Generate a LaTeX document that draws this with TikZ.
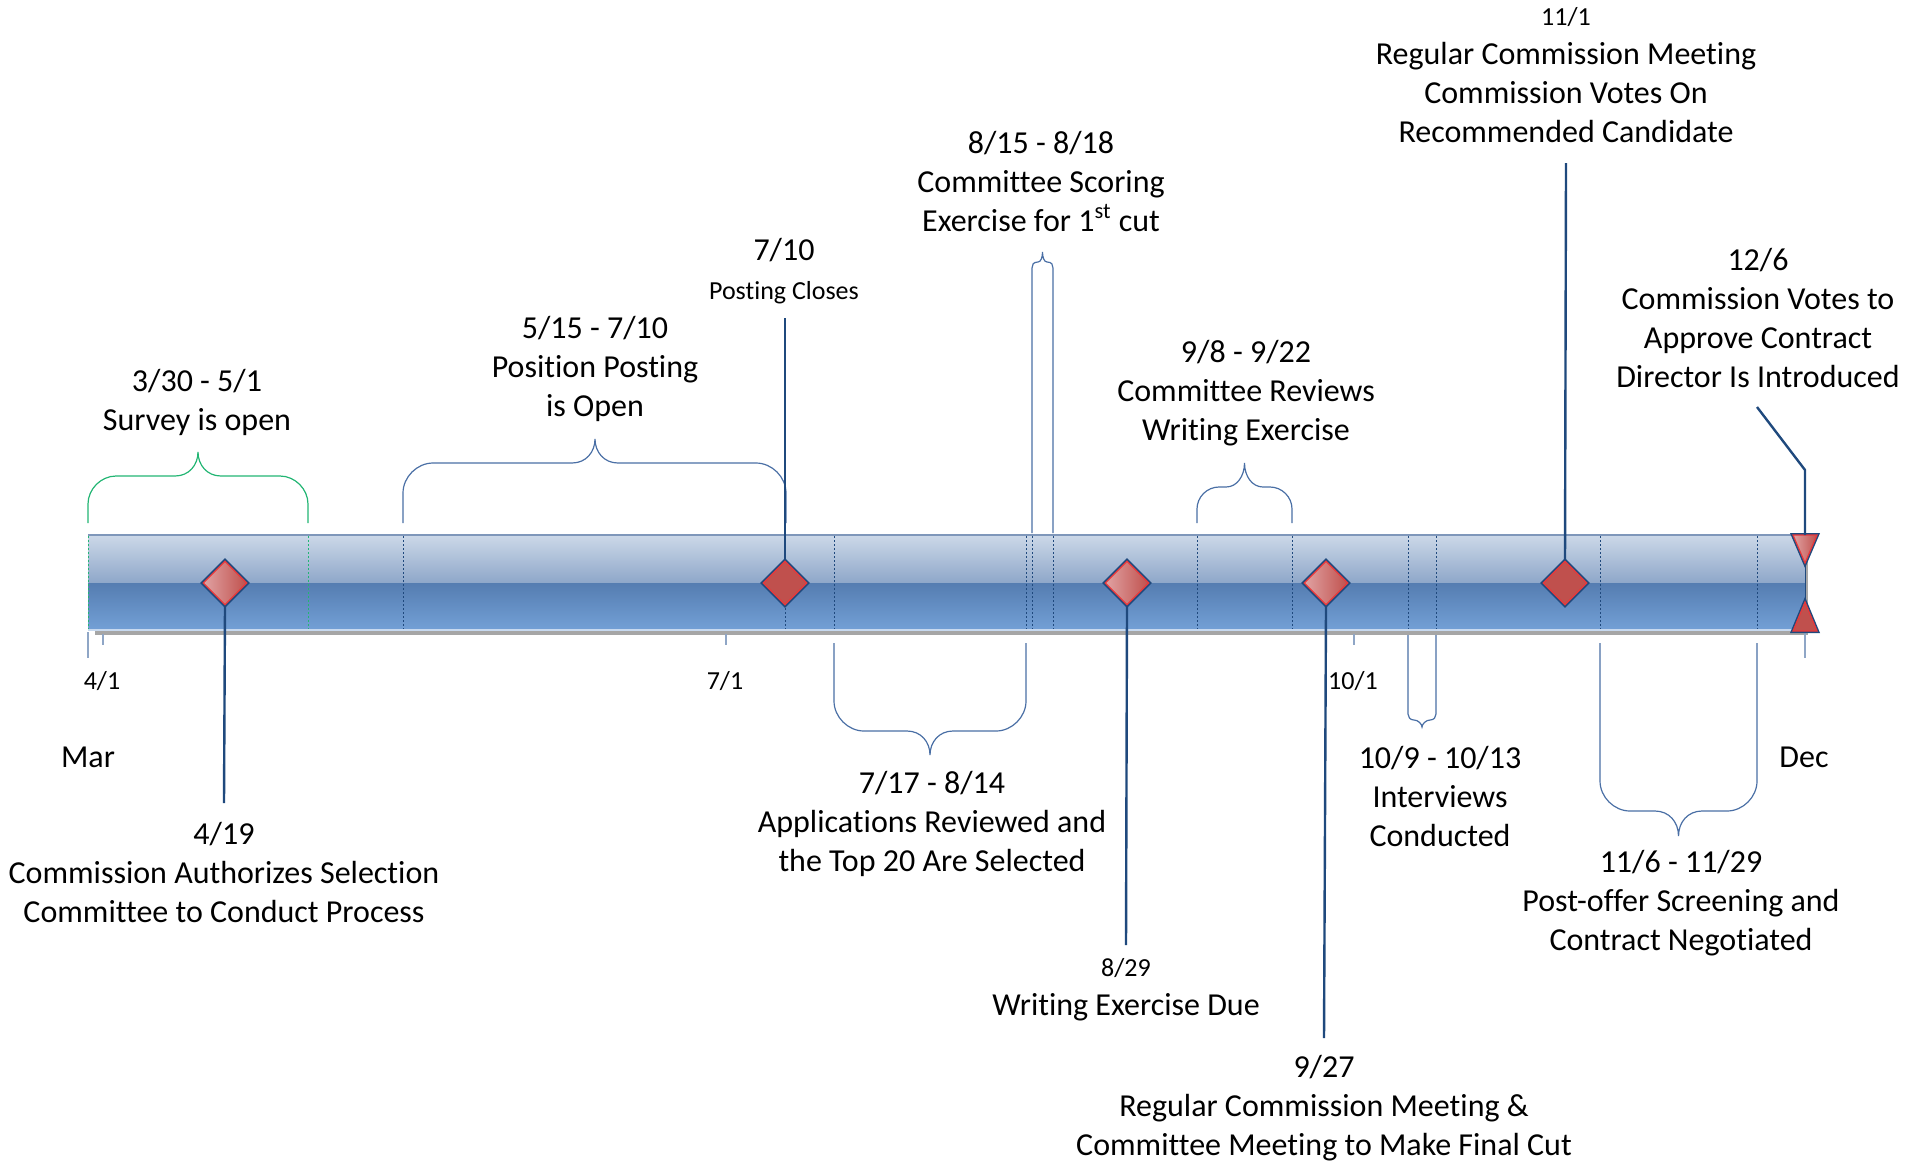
\documentclass[tikz,border=0pt]{standalone}
\usepackage{fontspec}
\setmainfont{Carlito}[Ligatures=NoCommon]
\usetikzlibrary{shapes.geometric}

\definecolor{navy}{HTML}{1F497D}
\definecolor{braceblue}{HTML}{4A6FA5}
\definecolor{bracegreen}{HTML}{22B573}
\definecolor{tickblue}{HTML}{8FA6C6}
\definecolor{barA}{HTML}{CCD8E8}
\definecolor{barB}{HTML}{8EA7C9}
\definecolor{barC}{HTML}{557DB1}
\definecolor{barD}{HTML}{73A0D6}
\definecolor{barline}{HTML}{7F97BA}
\definecolor{msLight}{HTML}{E0A3A3}
\definecolor{msDark}{HTML}{C0504D}
\definecolor{msRed}{HTML}{E8383A}

\newcommand{\smallfnt}{\fontsize{13}{16}\selectfont}

\begin{document}
\begin{tikzpicture}[x=0.5pt,y=-0.5pt,
	lbl/.style={align=center,inner sep=0pt,font=\fontsize{16}{19.5}\selectfont},
	tiny/.style={align=center,inner sep=0pt,font=\smallfnt},
	milestone/.style={diamond,inner sep=0pt,minimum size=22pt,left color=msLight,right color=msDark,draw=msRed,line width=0.6pt,preaction={draw=navy,line width=2.2pt}},
	flatstone/.style={milestone,left color=msDark,right color=msDark},
	flag/.style={left color=msLight,right color=msDark,draw=msRed,line width=0.6pt,preaction={draw=navy,line width=2pt}},
	conn/.style={draw=navy,line width=1.2pt},
	brace/.style={draw=braceblue,line width=0.6pt},
	sep/.style={draw=navy,line width=0.4pt,dash pattern=on 1pt off 1pt},
	tick/.style={draw=tickblue,line width=0.8pt}]

	\useasboundingbox (0,0) rectangle (1927,1164);

	%Bar
	\fill[gray!70] (95,630) rectangle (1808,635);
	\fill[gray!70] (1805,555) rectangle (1808,635);
	\shade[top color=barA, bottom color=barB] (88,535) rectangle (1805,583);
	\shade[top color=barC, bottom color=barD] (88,583) rectangle (1805,630);
	\draw[barline, line width=0.8pt] (88,535) -- (1805,535);
	\draw[barD!40!white, line width=0.6pt] (88,630) -- (1805,630);

	%Separators
	\foreach \x in {88,308}
		\draw[sep,draw=bracegreen] (\x,536) -- (\x,629);
	\foreach \x in {403,785,834,1026,1032,1053,1197,1292,1408,1436,1600,1757}
		\draw[sep] (\x,536) -- (\x,629);

	%Ticks
	\draw[tick] (88,632) -- (88,658);
	\draw[tick] (103,634) -- (103,645);
	\draw[tick] (726,634) -- (726,645);
	\draw[tick] (1354,634) -- (1354,645);
	\draw[tick] (1805,632) -- (1805,658);

	%Braces
	%3/30 - 5/1
	\draw[brace,draw=bracegreen] (88,523) -- (88,504) .. controls (88,489) and (101,476) .. (116,476) -- (175,476) .. controls (189,476) and (198,465) .. (198,452) .. controls (198,465) and (207,476) .. (221,476) -- (280,476) .. controls (295,476) and (308,489) .. (308,504) -- (308,523);
	%5/15 - 7/10
	\draw[brace] (403,523) -- (403,493) .. controls (403,477) and (417,463) .. (433,463) -- (572,463) .. controls (586,463) and (595,452) .. (595,439) .. controls (595,452) and (604,463) .. (618,463) -- (756,463) .. controls (772,463) and (786,477) .. (786,493) -- (786,523);
	%8/15 - 8/18
	\draw[brace] (1032,533) -- (1032,268) .. controls (1032,265) and (1033,262) .. (1038,262) .. controls (1041,262) and (1042.5,257) .. (1042.5,252) .. controls (1042.5,257) and (1044,262) .. (1047,262) .. controls (1052,262) and (1053,265) .. (1053,268) -- (1053,533);
	%9/8 - 9/22
	\draw[brace] (1197,523) -- (1197,509) .. controls (1197,497) and (1207,487) .. (1219,487) -- (1226,487) .. controls (1237,487) and (1244.5,476) .. (1244.5,463) .. controls (1244.5,476) and (1252,487) .. (1263,487) -- (1270,487) .. controls (1282,487) and (1292,497) .. (1292,509) -- (1292,523);
	%7/17 - 8/14
	\draw[brace] (834,643) -- (834,701) .. controls (834,717) and (848,731) .. (864,731) -- (907,731) .. controls (921,731) and (930,742) .. (930,755) .. controls (930,742) and (939,731) .. (953,731) -- (996,731) .. controls (1012,731) and (1026,717) .. (1026,701) -- (1026,643);
	%10/9 - 10/13
	\draw[brace] (1408,635) -- (1408,714) .. controls (1408,717) and (1410,720) .. (1414,720) .. controls (1418,720) and (1422,724) .. (1422,727) .. controls (1422,724) and (1426,720) .. (1430,720) .. controls (1434,720) and (1436,717) .. (1436,714) -- (1436,635);
	%11/6 - 11/29
	\draw[brace] (1600,643) -- (1600,781) .. controls (1600,797) and (1614,811) .. (1630,811) -- (1655,811) .. controls (1669,811) and (1678.5,822) .. (1678.5,836) .. controls (1678.5,822) and (1688,811) .. (1702,811) -- (1727,811) .. controls (1743,811) and (1757,797) .. (1757,781) -- (1757,643);

	%Milestones
	\node[milestone] (d419) at (225,583) {};
	\node[flatstone] (d710) at (785,583) {};
	\node[milestone] (d829) at (1127,583) {};
	\node[milestone] (d927) at (1326,583) {};
	\node[flatstone] (d111) at (1565,583) {};
	\draw[navy, line width=0.5pt] (1805,563) -- (1805,602);
	\path[flag] (1793,535) -- (1817,535) -- (1805,563) -- cycle;
	\path[flag,left color=msDark] (1793,631) -- (1817,631) -- (1805,602) -- cycle;
	\coordinate (f126) at (1805,535);

	%Connector ends
	\coordinate (c419) at (224,803);
	\coordinate (c710) at (785,318);
	\coordinate (c829) at (1126,945);
	\coordinate (c927) at (1324,1038);
	\coordinate (c111) at (1566,163);
	\coordinate (c126) at (1757,407);
	\coordinate (k126) at (1805,470);

	%Connectors
	\draw[conn] (d419.south) -- (c419);
	\draw[conn] (c710) -- (d710.north);
	\draw[conn] (d829.south) -- (c829);
	\draw[conn] (d927.south) -- (c927);
	\draw[conn] (c111) -- (d111.north);
	\draw[conn] (c126) -- (k126) -- (f126);

	%Labels above
	\node[lbl] (t330) at (197,402) {3/30 - 5/1\\Survey is open};
	\node[lbl] (t515) at (595,369) {5/15 - 7/10\\Position Posting\\is Open};
	\node[lbl] (t710) at (784,271) {7/10\\{\smallfnt Posting Closes}};
	\node[lbl] (t815) at (1041,181) {8/15 - 8/18\\Committee Scoring\\Exercise for 1\textsuperscript{st} cut};
	\node[lbl] (t908) at (1246,393) {9/8 - 9/22\\Committee Reviews\\Writing Exercise};
	\node[lbl] (t111) at (1566,75) {{\smallfnt 11/1}\\Regular Commission Meeting\\Commission Votes On\\Recommended Candidate};
	\node[lbl] (t126) at (1758,318) {12/6\\Commission Votes to\\Approve Contract\\Director Is Introduced};

	%Labels below
	\node[lbl] (t419) at (224,872) {4/19\\Commission Authorizes Selection\\Committee to Conduct Process};
	\node[lbl] (t717) at (932,824) {7/17 - 8/14\\Applications Reviewed and\\the Top 20 Are Selected};
	\node[lbl] (t829) at (1126,990) {{\smallfnt 8/29}\\Writing Exercise Due};
	\node[lbl] (t927) at (1324,1108) {9/27\\Regular Commission Meeting \&\\Committee Meeting to Make Final Cut};
	\node[lbl] (t1009) at (1440,796) {10/9 - 10/13\\Interviews\\Conducted};
	\node[lbl] (t1106) at (1681,903) {11/6 - 11/29\\Post-offer Screening and\\Contract Negotiated};

	%Axis
	\node[tiny] (a41) at (102,681) {4/1};
	\node[tiny] (a71) at (725,681) {7/1};
	\node[tiny] (a101) at (1353,681) {10/1};
	\node[lbl] (mar) at (88,757) {Mar};
	\node[lbl] (dec) at (1804,757) {Dec};

\end{tikzpicture}
\end{document}
